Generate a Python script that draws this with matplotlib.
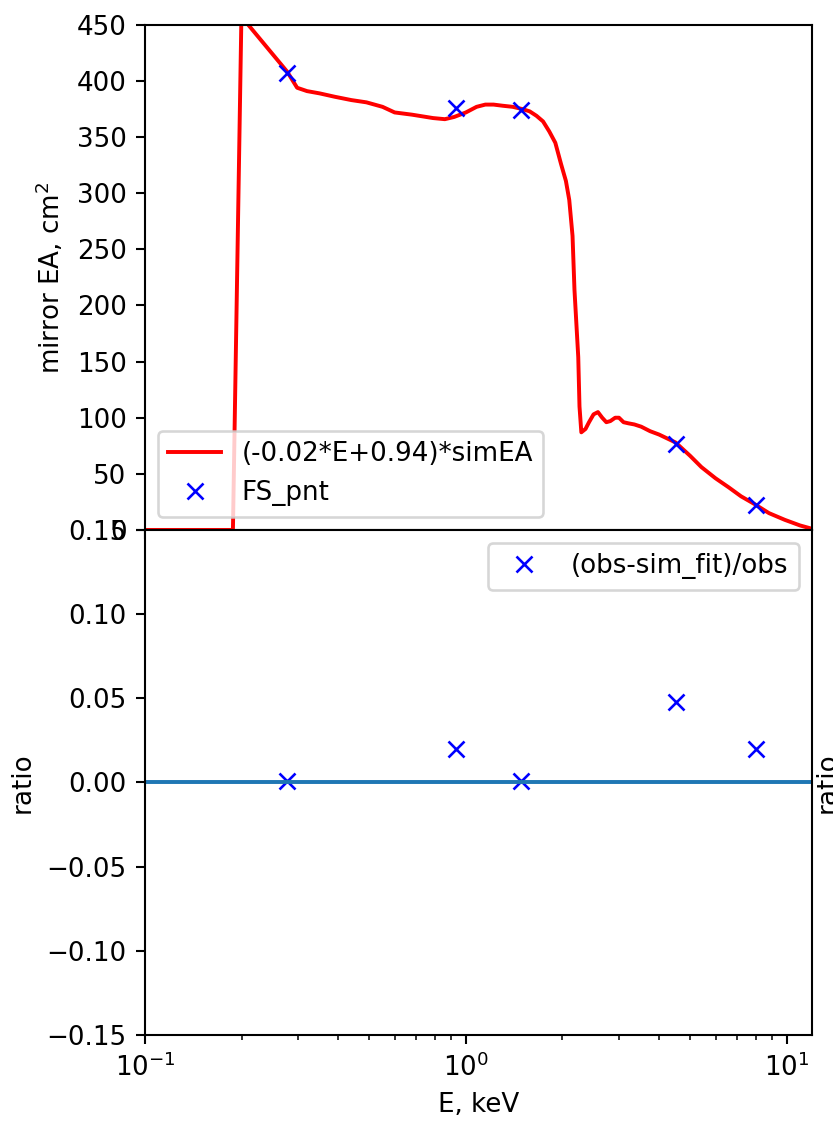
import numpy as np
import matplotlib
matplotlib.use('Agg')
import matplotlib.pyplot as plt
from matplotlib.ticker import MultipleLocator

# simulated mirror effective area (already scaled by the linear fit)
E_sim = [0.10, 0.15, 0.188, 0.20, 0.21, 0.24, 0.278, 0.298, 0.32, 0.35, 0.39, 0.44, 0.49,
         0.55, 0.60, 0.68, 0.79, 0.86, 0.92, 1.0, 1.08, 1.15, 1.22, 1.30, 1.40, 1.50,
         1.58, 1.66, 1.74, 1.82, 1.90, 1.98, 2.05, 2.10, 2.15, 2.18, 2.24, 2.26, 2.29,
         2.36, 2.42, 2.50, 2.58, 2.66, 2.74, 2.82, 2.92, 3.00, 3.10, 3.21, 3.35, 3.52,
         3.75, 4.0, 4.5, 5.0, 5.42, 6.0, 6.59, 7.2, 7.94, 8.8, 9.86, 11.0, 12.0]
EA_sim = [0, 0, 0, 465, 450, 430, 408, 394, 391, 389, 386, 383, 381,
          377, 372, 370, 367, 366, 368, 372, 377, 379, 379, 378, 377, 375,
          373, 369, 364, 355, 345, 326, 311, 294, 262, 214, 154, 110, 87,
          90, 96, 103, 105, 100, 96, 97, 100, 100, 96, 95, 94, 92,
          88, 85, 78, 66, 56, 46, 38, 30, 23, 15, 9, 4, 1]

# measured points
E_pnt = [0.277, 0.93, 1.49, 4.51, 8.04]
EA_pnt = [407, 376, 374, 77, 22]
ratio = [0.001, 0.020, 0.001, 0.048, 0.020]

dpi = 188
fig, (ax1, ax2) = plt.subplots(2, 1, sharex=True, figsize=(833/dpi, 1132/dpi), dpi=dpi)
fig.subplots_adjust(left=0.174, right=0.975, top=0.978, bottom=0.0857, hspace=0)

ax1.plot(E_sim, EA_sim, 'r', label='(-0.02*E+0.94)*simEA')
ax1.plot(E_pnt, EA_pnt, 'bx', label='FS_pnt')
ax1.set_xscale('log')
ax1.set_xlim(0.1, 12)
ax1.set_ylim(0, 450)
ax1.yaxis.set_major_locator(MultipleLocator(50))
ax1.set_ylabel('mirror EA, cm$^2$')
ax1.legend(loc='lower left')

ax2.plot(E_pnt, ratio, 'bx', label='(obs-sim_fit)/obs')
ax2.axhline(0)
ax2.set_ylim(-0.15, 0.15)
ax2.yaxis.set_major_locator(MultipleLocator(0.05))
ax2.set_ylabel('ratio')
ax2.set_xlabel('E, keV')
ax2.legend(loc='upper right')

# ylabel of the neighbouring panel, cut off by the crop
fig.text(0.978, 0.309, 'ratio', rotation=90, ha='left', va='center')

plt.savefig('out.png', dpi=dpi)
